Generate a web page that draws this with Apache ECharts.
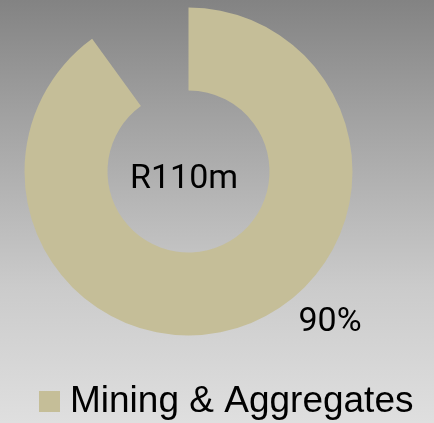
<!DOCTYPE html>
<html>
<head>
<meta charset="utf-8">
<script src="https://cdn.jsdelivr.net/npm/echarts@6/dist/echarts.min.js"></script>
<style>
  html, body { margin: 0; padding: 0; }
  #chart {
    width: 434px; height: 423px;
    background: linear-gradient(to bottom, #838383 0%, #a2a2a2 28%, #cbcbcb 68%, #dfdfdf 100%);
  }
</style>
</head>
<body>
<div id="chart"></div>
<script>
// Revenue split: the visible slice plus the remaining share left empty
const categories = ['Mining & Aggregates', 'Other'];
const values = [90, 10];
const centerText = 'R110m';

const sliceColor = '#c5be98';

const chart = echarts.init(document.getElementById('chart'), null, { renderer: 'canvas' });

const data = categories.map((name, i) => ({
  name: name,
  value: values[i],
  itemStyle: i === 0 ? { color: sliceColor } : { color: 'rgba(0,0,0,0)' },
  label: { show: i === 0 }
}));

chart.setOption({
  animation: false,
  graphic: [{
    type: 'text',
    left: 130,
    top: 162,
    silent: true,
    style: {
      text: centerText,
      font: '34px Roboto',
      fill: '#000'
    }
  }],
  legend: {
    data: [categories[0]],
    left: 34, top: 378,
    icon: 'rect',
    itemWidth: 21, itemHeight: 21,
    selectedMode: false,
    textStyle: { fontFamily: 'Liberation Sans', fontSize: 37, color: '#000', padding: [0, 0, 0, 5] }
  },
  series: [{
    type: 'pie',
    center: [188.5, 171.5],
    radius: [81, 164],
    startAngle: 90,
    clockwise: true,
    silent: true,
    emphasis: { disabled: true },
    labelLine: { show: false },
    label: {
      position: 'outside',
      formatter: '{d}%',
      fontFamily: 'Roboto',
      fontSize: 34,
      color: '#000'
    },
    labelLayout: function () {
      return { x: 330, y: 322, align: 'center', verticalAlign: 'middle' };
    },
    data: data
  }]
});
</script>
</body>
</html>
